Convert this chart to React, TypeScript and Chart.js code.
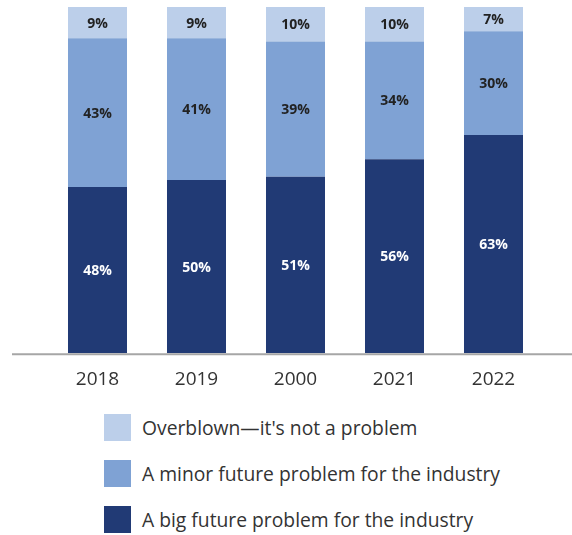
import React, { useEffect, useRef } from "react";
import { Chart, registerables } from "chart.js";

Chart.register(...registerables);

const categories = ["2018", "2019", "2000", "2021", "2022"];
const bigProblem = [48, 50, 51, 56, 63];
const minorProblem = [43, 41, 39, 34, 30];
const overblown = [9, 9, 10, 10, 7];
const seriesNames = [
  "A big future problem for the industry",
  "A minor future problem for the industry",
  "Overblown\u2014it's not a problem",
];
const colors = ["#213a75", "#7fa2d4", "#bccfea"];
const labelColors = ["#ffffff", "#222222", "#222222"];
const FONT = "'Open Sans', 'Noto Sans', sans-serif";

const valueLabels = {
  id: "valueLabels",
  afterDatasetsDraw(chart: any) {
    const ctx = chart.ctx;
    ctx.save();
    ctx.font = `bold 14px ${FONT}`;
    ctx.textAlign = "center";
    ctx.textBaseline = "middle";
    chart.data.datasets.forEach((ds: any, di: number) => {
      const meta = chart.getDatasetMeta(di);
      meta.data.forEach((bar: any, i: number) => {
        const { x, y, base } = bar.getProps(["x", "y", "base"], true);
        ctx.fillStyle = labelColors[di];
        ctx.fillText(`${ds.data[i]}%`, x, (y + base) / 2 + 1);
      });
    });
    ctx.restore();
  },
};

const baseline = {
  id: "baseline",
  afterDatasetsDraw(chart: any) {
    const ctx = chart.ctx;
    const y = chart.chartArea.bottom + 1;
    ctx.save();
    ctx.strokeStyle = "#a6a6a6";
    ctx.lineWidth = 2;
    ctx.beginPath();
    ctx.moveTo(12, y);
    ctx.lineTo(chart.width, y);
    ctx.stroke();
    ctx.restore();
  },
};

export default function App() {
  const ref = useRef<HTMLCanvasElement>(null);
  useEffect(() => {
    const chart = new Chart(ref.current!, {
      type: "bar",
      data: {
        labels: categories,
        datasets: [bigProblem, minorProblem, overblown].map((d, i) => ({
          label: seriesNames[i],
          data: d,
          backgroundColor: colors[i],
          borderWidth: 0,
          categoryPercentage: 1,
          barPercentage: 0.596,
        })),
      },
      options: {
        animation: false,
        responsive: true,
        maintainAspectRatio: false,
        layout: { padding: { left: 48, right: 29, top: 7, bottom: 8 } },
        plugins: {
          legend: { display: false },
          tooltip: { enabled: false },
        },
        scales: {
          x: {
            stacked: true,
            grid: { display: false, drawTicks: false },
            border: { display: false },
            ticks: {
              color: "#333333",
              font: { family: FONT, size: 19 },
              padding: 15,
            },
          },
          y: {
            stacked: true,
            display: false,
            min: 0,
            max: 100,
          },
        },
      },
      plugins: [valueLabels, baseline],
    });
    return () => chart.destroy();
  }, []);

  const legendItems = [2, 1, 0];
  return (
    <div style={{ position: "fixed", left: 0, top: 0, width: 572, height: 535, background: "#fff" }}>
      <div style={{ position: "absolute", left: 0, top: 0, width: 572, height: 414 }}>
        <canvas ref={ref} />
      </div>
      <div style={{ position: "absolute", left: 104, top: 414, fontFamily: FONT }}>
        {legendItems.map((i, k) => (
          <div key={i} style={{ display: "flex", alignItems: "center", height: 27, marginBottom: k < 2 ? 19 : 0 }}>
            <div style={{ width: 27, height: 27, background: colors[i], flex: "none" }} />
            <span style={{ marginLeft: 11, fontSize: 19.3, color: "#333333", whiteSpace: "nowrap" }}>{seriesNames[i]}</span>
          </div>
        ))}
      </div>
    </div>
  );
}
